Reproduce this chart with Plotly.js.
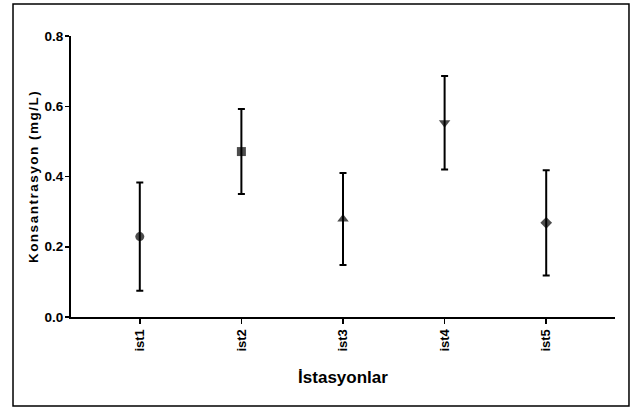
<!DOCTYPE html>
<html>
<head>
<meta charset="utf-8">
<script src="https://cdn.plot.ly/plotly-3.0.1.min.js"></script>
<style>
html,body{margin:0;padding:0;background:#fff;}
#chart{width:634px;height:407px;}
.ytitle{letter-spacing:1.5px;}
</style>
</head>
<body>
<div id="chart"></div>
<script>
var categories = ["ist1", "ist2", "ist3", "ist4", "ist5"];
var means = [0.229, 0.471, 0.279, 0.553, 0.268];
var errors = [0.154, 0.121, 0.131, 0.133, 0.150];
var yTicks = [0.0, 0.2, 0.4, 0.6, 0.8];
var yTickText = ["0.0", "0.2", "0.4", "0.6", "0.8"];

var symbols = ["circle", "square", "triangle-up", "triangle-down", "diamond"];
var sizes = [9, 9, 10, 10, 9];

var trace = {
  type: "scatter",
  mode: "markers",
  x: categories,
  y: means,
  marker: {symbol: symbols, size: sizes, color: "#000", line: {width: 0}},
  error_y: {type: "data", array: errors, visible: true, color: "#000", thickness: 2, width: 3.5},
  hoverinfo: "x+y"
};

var layout = {
  width: 634,
  height: 407,
  margin: {l: 71, r: 19, t: 36, b: 90},
  paper_bgcolor: "#fff",
  plot_bgcolor: "#fff",
  showlegend: false,
  font: {family: "Liberation Sans, Arial, sans-serif", color: "#000"},
  xaxis: {
    type: "category",
    range: [-0.677, 4.677],
    showgrid: false,
    zeroline: false,
    showline: true,
    linecolor: "#000",
    linewidth: 2,
    ticks: "outside",
    ticklen: 5,
    tickwidth: 1.5,
    tickcolor: "#000",
    tickangle: -90,
    tickfont: {size: 13, weight: "bold", color: "#000"},
    title: {text: "İstasyonlar", font: {size: 17, weight: "bold", color: "#000"}, standoff: 20},
    fixedrange: true
  },
  yaxis: {
    range: [0, 0.8],
    tickvals: yTicks,
    ticktext: yTickText,
    showgrid: false,
    zeroline: false,
    showline: true,
    linecolor: "#000",
    linewidth: 2,
    ticks: "outside",
    ticklen: 4,
    tickwidth: 1.5,
    tickcolor: "#000",
    ticklabelstandoff: -1,
    tickfont: {size: 13.5, weight: "bold", color: "#000"},
    title: {text: "Konsantrasyon (mg/L)", font: {size: 13.5, weight: "bold", color: "#000"}, standoff: 3},
    fixedrange: true
  },
  shapes: [{
    type: "rect", xref: "paper", yref: "paper",
    x0: -0.1066, x1: 1.0257, y0: -0.317, y1: 1.114,
    line: {color: "#000", width: 1.5}, fillcolor: "rgba(0,0,0,0)", layer: "below"
  }]
};

Plotly.newPlot("chart", [trace], layout, {displayModeBar: false, staticPlot: true});
</script>
</body>
</html>
